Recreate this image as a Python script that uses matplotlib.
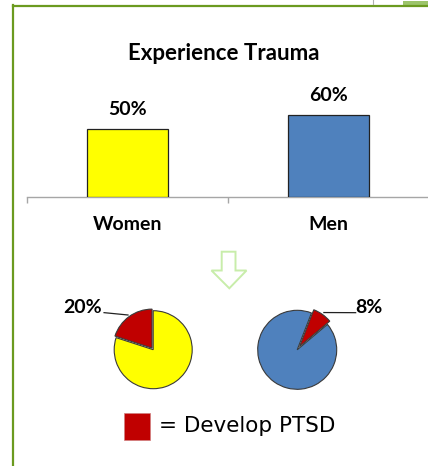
import matplotlib
matplotlib.use("Agg")
import matplotlib.pyplot as plt
from matplotlib.patches import Rectangle, Polygon
from matplotlib.lines import Line2D
import numpy as np

# ---- data ----
categories = ["Women", "Men"]
trauma_pct = [50, 60]
ptsd_pct = [20, 8]
bar_colors = ["#FFFF00", "#4F81BD"]
ptsd_color = "#C00000"
title = "Experience Trauma"
legend_label = "= Develop PTSD"

W, H = 428, 466
DPI = 100
fig = plt.figure(figsize=(W / DPI, H / DPI), dpi=DPI)
fig.patch.set_facecolor("white")

def fx(x):
    return x / W

def fy(y):
    return 1 - y / H

BOLD = dict(family="Lato", fontweight="bold", color="black")

# ---- frame lines (decoration) ----
green = "#6B9A1F"
fig.add_artist(Line2D([fx(13), fx(13)], [fy(5), fy(466)], color=green, lw=1.6))
fig.add_artist(Line2D([fx(12.5), fx(428)], [fy(5.5), fy(5.5)], color=green, lw=1.6))
fig.add_artist(Rectangle((fx(403), fy(4.5)), fx(25), 4 / H, color="#9CC46A", lw=0))
fig.add_artist(Line2D([fx(373), fx(373)], [fy(0), fy(4)], color="#b0b0b0", lw=0.8))

# ---- bar chart ----
base_y = 197
px_per_pct = 1.36
ax_h = 160
ax = fig.add_axes([fx(27), fy(base_y), 402 / W, ax_h / H])
x = np.arange(len(categories))
ax.bar(x, trauma_pct, width=0.40, color=bar_colors, edgecolor="#222222", linewidth=0.9, zorder=3)
ax.set_xlim(-0.5, 1.5)
ax.set_ylim(0, ax_h / px_per_pct)
for s in ["top", "left", "right"]:
    ax.spines[s].set_visible(False)
ax.spines["bottom"].set_color("#a6a6a6")
ax.spines["bottom"].set_linewidth(1.0)
ax.set_yticks([])
ax.set_xticks(x)
ax.set_xticklabels(categories, fontsize=14, **BOLD)
ax.tick_params(axis="x", which="major", length=0, pad=14)
ax.set_xticks([-0.5, 0.5, 1.5], minor=True)
ax.tick_params(axis="x", which="minor", length=4, color="#a6a6a6", width=1.0, direction="out")
ax.patch.set_alpha(0)
for xi, v in zip(x, trauma_pct):
    ax.annotate(f"{v}%", (xi, v), xytext=(0, 14), textcoords="offset points",
                ha="center", va="center", fontsize=14, **BOLD)

fig.text(fx(224), fy(53), title, ha="center", va="center", fontsize=16, **BOLD)

# ---- arrow ----
arrow_pts = [(221.7, 251.7), (235.5, 251.7), (235.5, 270.5), (246.5, 270.5),
             (229.3, 288.3), (211.5, 270.5), (221.7, 270.5)]
fig.add_artist(Polygon([(fx(a), fy(b)) for a, b in arrow_pts], closed=True,
                       facecolor="white", edgecolor="#C8EDAA", lw=1.4))

# ---- pies ----
pie_specs = [
    dict(cx=153.2, cy=349.7, r=39.0, start=90, explode=0.05,
         lbl_xy=(-1.80, 1.08), line_from=(-1.26, 0.95), line_r=1.10),
    dict(cx=297.2, cy=349.8, r=39.5, start=40, explode=0.10,
         lbl_xy=(1.82, 1.07), line_from=(1.48, 0.94), line_r=1.16),
]
half = 90
for i, spec in enumerate(pie_specs):
    pax = fig.add_axes([fx(spec["cx"] - half), fy(spec["cy"] + half), 2 * half / W, 2 * half / H])
    vals = [100 - ptsd_pct[i], ptsd_pct[i]]
    wedges, _ = pax.pie(vals, colors=[bar_colors[i], ptsd_color], startangle=spec["start"],
                        counterclock=False, explode=[0, spec["explode"]],
                        wedgeprops=dict(edgecolor="#3a3a3a", linewidth=0.8))
    lim = half / spec["r"]
    pax.set_xlim(-lim, lim)
    pax.set_ylim(-lim, lim)
    pax.set_aspect("equal")
    pax.axis("off")
    w = wedges[1]
    mid = np.deg2rad((w.theta1 + w.theta2) / 2)
    ex, ey = spec["line_r"] * np.cos(mid), spec["line_r"] * np.sin(mid)
    lx, ly = spec["line_from"]
    pax.plot([lx, ex], [ly, ey], color="#222222", lw=0.9, clip_on=False)
    pax.text(spec["lbl_xy"][0], spec["lbl_xy"][1], f"{ptsd_pct[i]}%", ha="center", va="center",
             fontsize=14, **BOLD)

# ---- legend ----
fig.add_artist(Rectangle((fx(124), fy(440)), 26 / W, 27.3 / H, facecolor=ptsd_color,
                         edgecolor="#d08080", lw=0.5))
fig.text(fx(159), fy(426), legend_label, ha="left", va="center", fontsize=15.5,
         family="DejaVu Sans", color="black")

fig.savefig("out.png", dpi=DPI)
